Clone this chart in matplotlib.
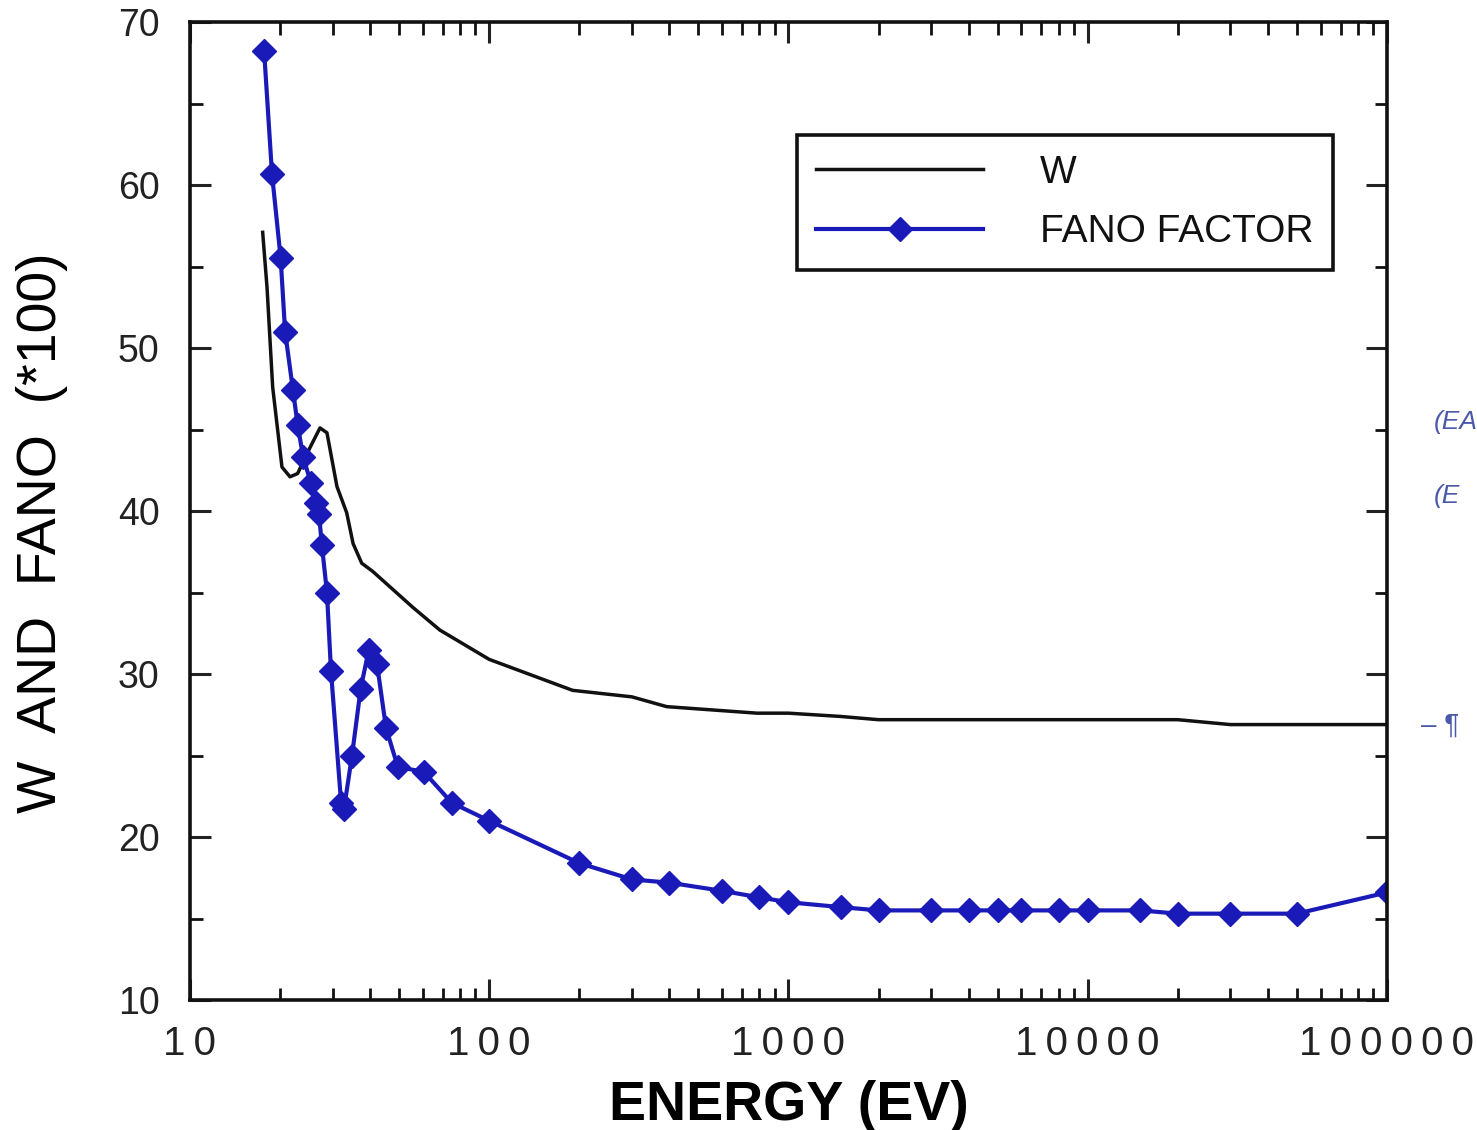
import numpy as np
import matplotlib
matplotlib.use('Agg')
import matplotlib.pyplot as plt
from matplotlib.ticker import FixedLocator, FixedFormatter, LogLocator, NullFormatter, MultipleLocator

# W 曲线 (能量 eV, 值*100)
w_energy = [17.5, 18.1, 18.9, 20.3, 21.6, 22.9, 25.2, 27.2, 28.7, 31.0, 33.4, 35.1, 37.5, 40.8,
            55.5, 68.4, 100, 190, 300, 392, 785, 1000, 1490, 2000, 5000, 20000, 30000, 100000]
w_value = [57.1, 53.7, 47.6, 42.7, 42.1, 42.3, 43.9, 45.1, 44.8, 41.5, 39.9, 38.0, 36.8, 36.3,
           34.1, 32.7, 30.9, 29.0, 28.6, 28.0, 27.6, 27.6, 27.4, 27.2, 27.2, 27.2, 26.9, 26.9]

# Fano 因子 (*100)
fano_energy = [17.7, 18.8, 20.1, 20.8, 22.1, 22.9, 23.9, 25.4, 26.4, 27.0, 27.6, 28.7, 29.6,
               32.0, 32.7, 34.8, 37.2, 39.6, 42.2, 45.2, 49.5, 60.5, 75, 100, 200, 300, 400,
               600, 800, 1000, 1500, 2000, 3000, 4000, 5000, 6000, 8000, 10000, 15000, 20000,
               30000, 50000, 100000]
fano_value = [68.2, 60.7, 55.5, 51.0, 47.4, 45.3, 43.3, 41.7, 40.5, 39.8, 37.9, 35.0, 30.2,
              22.1, 21.7, 25.0, 29.1, 31.5, 30.6, 26.7, 24.3, 24.0, 22.1, 21.0, 18.4, 17.4, 17.2,
              16.7, 16.3, 16.0, 15.7, 15.5, 15.5, 15.5, 15.5, 15.5, 15.5, 15.5, 15.5, 15.3,
              15.3, 15.3, 16.6]

x_ticks = [10, 100, 1000, 10000, 100000]
x_ticklabels = ['1\u20090', '1\u20090\u20090', '1\u20090\u20090\u20090',
                '1\u20090\u20090\u20090\u20090', '1\u20090\u20090\u20090\u20090\u20090']
y_ticks = [10, 20, 30, 40, 50, 60, 70]

plt.rcParams['font.family'] = ['Liberation Sans', 'DejaVu Sans']

fig = plt.figure(figsize=(14.77, 11.3), dpi=100)
ax = fig.add_axes([0.1286, 0.115, 0.8104, 0.8655])

ax.plot(w_energy, w_value, color='#111111', lw=2.5, label='W')
ax.plot(fano_energy, fano_value, color='#1a1ab8', lw=3.0, marker='D', markersize=12,
        markeredgecolor='#1a1ab8', label='FANO FACTOR')

ax.set_xscale('log')
ax.set_xlim(10, 100000)
ax.set_ylim(10, 70)

ax.xaxis.set_major_locator(FixedLocator(x_ticks))
ax.xaxis.set_major_formatter(FixedFormatter(x_ticklabels))
ax.xaxis.set_minor_locator(LogLocator(base=10, subs=np.arange(2, 10)))
ax.xaxis.set_minor_formatter(NullFormatter())
ax.yaxis.set_major_locator(FixedLocator(y_ticks))
ax.yaxis.set_minor_locator(MultipleLocator(5))

ax.tick_params(which='both', direction='in', top=True, right=True, color='#111111')
ax.tick_params(which='major', length=15, width=2.2)
ax.tick_params(which='minor', length=9, width=2.0)
ax.tick_params(axis='x', which='major', labelsize=29, pad=18, colors='#222222')
ax.tick_params(axis='y', which='major', labelsize=27, pad=22, colors='#222222')

for s in ax.spines.values():
    s.set_linewidth(2.6)
    s.set_color('#111111')

ax.set_xlabel('ENERGY (EV)', fontsize=40, fontweight='bold', labelpad=12)
ax.set_ylabel('W  AND  FANO  (*100)', fontsize=40)
ax.yaxis.set_label_coords(-0.102, 0.478)

leg = ax.legend(loc='upper left', bbox_to_anchor=(0.507, 0.884), borderaxespad=0,
                fontsize=28, frameon=True, fancybox=False, edgecolor='#111111',
                framealpha=1.0, handlelength=4.3, handletextpad=1.45, labelspacing=0.6,
                borderpad=0.5, numpoints=1)
leg.get_frame().set_linewidth(2.6)
for t in leg.get_texts():
    t.set_color('#111111')

# 右侧页边手写痕迹
fig.text(0.971, 0.62, '(EA', color='#4a5aa8', fontsize=19, style='italic')
fig.text(0.971, 0.555, '(E', color='#4a5aa8', fontsize=19, style='italic')
fig.text(0.962, 0.352, '\u2013 \u00b6', color='#4a5aa8', fontsize=20)

fig.savefig('out.png', dpi=100, facecolor='white')
